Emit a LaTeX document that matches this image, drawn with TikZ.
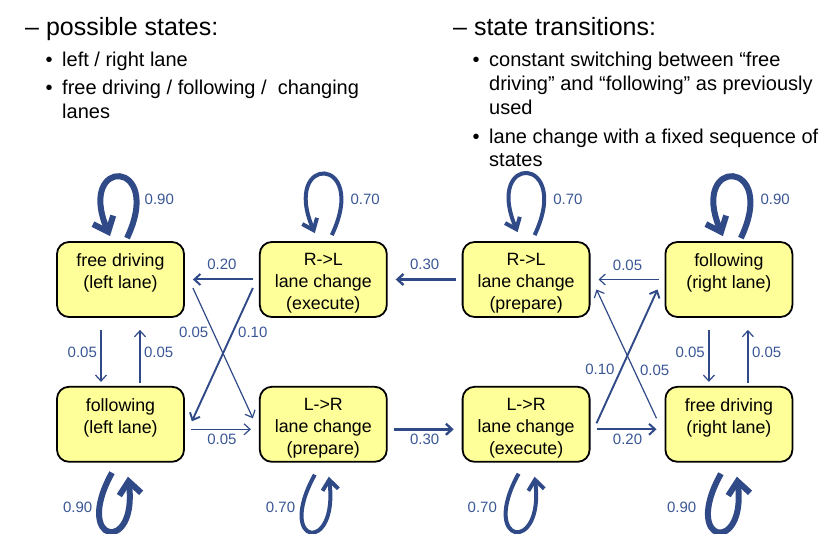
\documentclass[tikz,border=0pt]{standalone}
\usepackage{fontspec}
\setmainfont{Liberation Sans}
\usetikzlibrary{
    arrows.meta,  % For arrow tips
    positioning   % For placing the states relative to one another
}
\definecolor{arrowblue}{RGB}{47,74,135}
\definecolor{labelblue}{RGB}{58,86,150}
\definecolor{stateyellow}{RGB}{255,255,153}
% state text hangs from the top, so two- and three-line states share a first line
\newcommand{\stateText}[1]{\parbox[c][52pt][t]{125pt}{\centering #1}}

\begin{document}
\begin{tikzpicture}[
    x=1pt, y=-1pt, % pixel-like units, y grows downwards
    node distance=68pt and 74pt,
    state/.style={draw=black, line width=1.8pt, rounded corners=12pt, fill=stateyellow,
        minimum width=127pt, minimum height=75pt, inner sep=0pt,
        font=\fontsize{17.8}{22}\selectfont},
    prob/.style={text=labelblue, font=\fontsize{15}{18}\selectfont, inner sep=1.5pt},
    edge/.style={draw=arrowblue, line width=1.2pt, -{Straight Barb[length=6pt,width=11pt]},
        shorten <=6pt, shorten >=8pt},
    diag/.style={edge, shorten <=0pt, shorten >=0pt},
    bigloop/.style={draw=arrowblue, line width=6pt, -{Straight Barb[length=13pt,width=22pt]}},
    midloop/.style={draw=arrowblue, line width=4pt, -{Straight Barb[length=10pt,width=16pt]}},
    % loop shapes above and below a state
    loopUp/.style={to path={.. controls +(38,-80) and +(-34,-80) .. (\tikztotarget)}},
    loopDown/.style={to path={.. controls +(-40,72) and +(10,78) .. (\tikztotarget)}},
    head/.style={font=\fontsize{25}{30}\selectfont, anchor=base west, inner sep=0pt},
    item/.style={font=\fontsize{20}{24}\selectfont, anchor=base west, inner sep=0pt}
]
    \useasboundingbox (0,0) rectangle (827,534);

    % --- Text above the diagram ---
    \node[head] (hdStates) at (25,36) {– possible states:};
    \node[item] (bulA) at (45.5,67) {•};
    \node[item] (txA) at (62,67) {left / right lane};
    \node[item] (bulB) at (45.5,95) {•};
    \node[item] (txB) at (62,95) {free driving / following /~ changing};
    \node[item] (txB2) at (62,119) {lanes};

    \node[head] (hdTrans) at (453,36) {– state transitions:};
    \node[item] (bulC) at (472.5,67) {•};
    \node[item] (txC) at (489,67) {constant switching between “free};
    \node[item] (txC2) at (489,91) {driving” and “following” as previously};
    \node[item] (txC3) at (489,115) {used};
    \node[item] (bulD) at (472.5,144) {•};
    \node[item] (txD) at (489,144) {lane change with a fixed sequence of};
    \node[item] (txD2) at (489,167) {states};

    % --- States ---
    \node[state] (freeL) at (120.5,279.5) {\stateText{free driving\\(left lane)}};
    \node[state, right=of freeL] (rlExec) {\stateText{R->L\\lane change\\(execute)}};
    \node[state, right=of rlExec] (rlPrep) {\stateText{R->L\\lane change\\(prepare)}};
    \node[state, right=of rlPrep] (follR) {\stateText{following\\(right lane)}};
    \node[state, below=of freeL] (follL) {\stateText{following\\(left lane)}};
    \node[state, below=of rlExec] (lrPrep) {\stateText{L->R\\lane change\\(prepare)}};
    \node[state, below=of rlPrep] (lrExec) {\stateText{L->R\\lane change\\(execute)}};
    \node[state, below=of follR] (freeR) {\stateText{free driving\\(right lane)}};

    % --- Top row, right to left ---
    \draw[edge, line width=2pt] (rlExec.west) -- node[prob, above=7pt] (pRlFree) {0.20} (freeL.east);
    \draw[edge, line width=2.4pt] (rlPrep.west) -- node[prob, above=7pt] (pRlPrep) {0.30} (rlExec.east);
    \draw[edge] (follR.west) -- node[prob, above=7pt] (pFollRl) {0.05} (rlPrep.east);

    % --- Bottom row, left to right ---
    \draw[edge] ([yshift=-5pt]follL.east) -- node[prob, below=2.5pt] (pFollLr) {0.05} ([yshift=-5pt]lrPrep.west);
    \draw[edge, line width=2.4pt] ([yshift=-5pt]lrPrep.east) -- node[prob, below=2.5pt] (pLrPrep) {0.30} ([yshift=-5pt]lrExec.west);
    \draw[edge, line width=2pt] ([yshift=-5pt]lrExec.east) -- node[prob, below=2.5pt] (pLrFree) {0.20} ([yshift=-5pt]freeR.west);

    % --- Free driving <-> following ---
    \draw[edge, shorten <=12pt, shorten >=4pt] ([xshift=-19.5pt]freeL.south) -- node[prob, left=2pt] (pFreeFollL) {0.05} ([xshift=-19.5pt]follL.north);
    \draw[edge, shorten <=3pt, shorten >=12pt] ([xshift=19.5pt]follL.north) -- node[prob, right=2pt] (pFollFreeL) {0.05} ([xshift=19.5pt]freeL.south);
    \draw[edge, shorten <=12pt, shorten >=4pt] ([xshift=-20pt]follR.south) -- node[prob, left=2pt] (pFollFreeR) {0.05} ([xshift=-20pt]freeR.north);
    \draw[edge, shorten <=3pt, shorten >=12pt] ([xshift=19pt]freeR.north) -- node[prob, right=2pt] (pFreeFollR) {0.05} ([xshift=19pt]follR.south);

    % --- Crossing transitions ---
    \draw[diag] ([shift={(8,8.5)}]freeL.east) -- node[prob, left=3pt, pos=0.34] (pFreeLr) {0.05} ([shift={(-6,-6)}]lrPrep.west);
    \draw[diag, line width=1.9pt] ([shift={(-6,8.5)}]rlExec.west) -- node[prob, right=3pt, pos=0.33] (pRlFoll) {0.10} ([shift={(7,-3)}]follL.east);
    \draw[diag, line width=1.9pt] ([shift={(6,-1)}]lrExec.east) -- node[prob, left=4pt, pos=0.4] (pLrFoll) {0.10} ([shift={(-7,10)}]follR.west);
    \draw[diag] ([shift={(-8,-6)}]freeR.west) -- node[prob, right=4pt, pos=0.375] (pFreeRl) {0.05} ([shift={(6,10)}]rlPrep.east);

    % --- Self loops, top row ---
    \draw[bigloop] ([shift={(6.5,-3)}]freeL.north) to[loopUp] ([shift={(-10.5,-5)}]freeL.north);
    \node[prob, anchor=west] (lpFreeL) at ([shift={(22.5,-42)}]freeL.north) {0.90};
    \draw[midloop] ([shift={(8.5,-6)}]rlExec.north) to[loopUp] ([shift={(-8.5,-8)}]rlExec.north);
    \node[prob, anchor=west] (lpRlExec) at ([shift={(25.5,-42)}]rlExec.north) {0.70};
    \draw[midloop] ([shift={(8.5,-6)}]rlPrep.north) to[loopUp] ([shift={(-8.5,-9)}]rlPrep.north);
    \node[prob, anchor=west] (lpRlPrep) at ([shift={(25.5,-42)}]rlPrep.north) {0.70};
    \draw[bigloop] ([shift={(12,-3)}]follR.north) to[loopUp] ([shift={(-6,-5)}]follR.north);
    \node[prob, anchor=west] (lpFollR) at ([shift={(30,-42)}]follR.north) {0.90};

    % --- Self loops, bottom row ---
    \draw[bigloop] ([shift={(-8.5,10)}]follL.south) to[loopDown] ([shift={(7.5,14)}]follL.south);
    \node[prob, anchor=east] (lpFollL) at ([shift={(-26.5,45)}]follL.south) {0.90};
    \draw[midloop] ([shift={(-8.5,12)}]lrPrep.south) to[loopDown] ([shift={(5.5,14)}]lrPrep.south);
    \node[prob, anchor=east] (lpLrPrep) at ([shift={(-26.5,45)}]lrPrep.south) {0.70};
    \draw[midloop] ([shift={(-7.5,11)}]lrExec.south) to[loopDown] ([shift={(8.5,14)}]lrExec.south);
    \node[prob, anchor=east] (lpLrExec) at ([shift={(-27.5,45)}]lrExec.south) {0.70};
    \draw[bigloop] ([shift={(-8,11)}]freeR.south) to[loopDown] ([shift={(8,14)}]freeR.south);
    \node[prob, anchor=east] (lpFreeR) at ([shift={(-31,45)}]freeR.south) {0.90};

\end{tikzpicture}
\end{document}
